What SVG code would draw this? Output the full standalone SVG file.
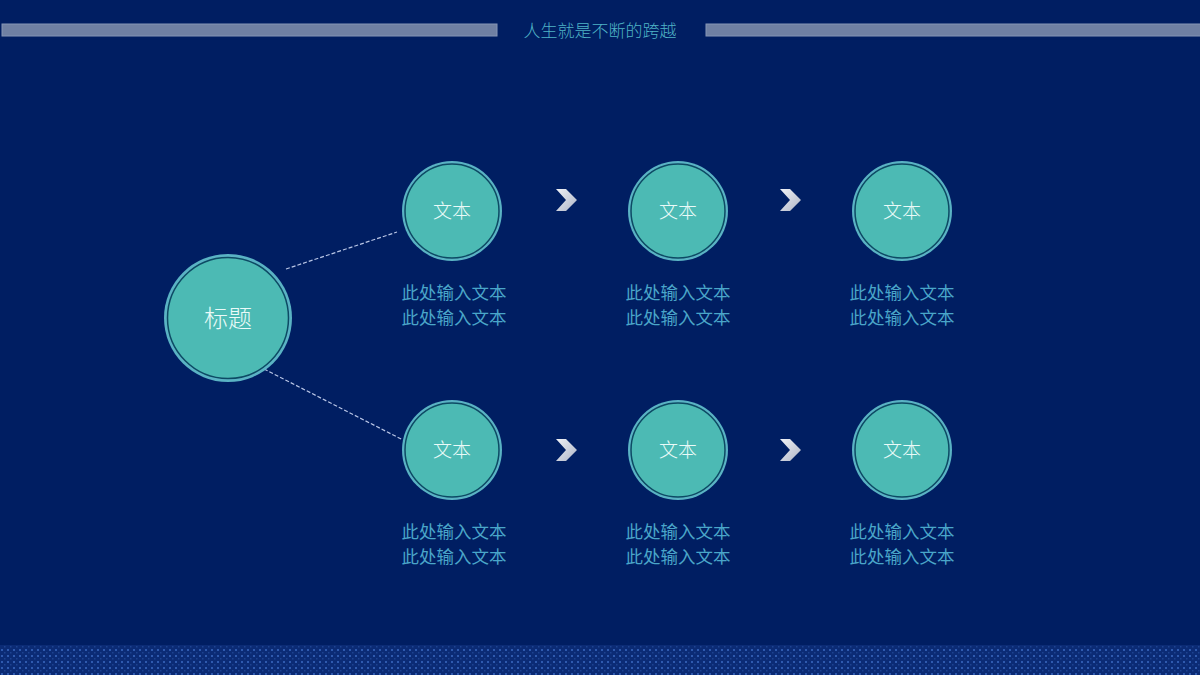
<svg xmlns="http://www.w3.org/2000/svg" width="1200" height="675" viewBox="0 0 1200 675">
<defs>
<style>
.bar{fill:#6f80a3;stroke:#8595b5;stroke-width:1}
.ring{fill:#5ab3c4}
.gap{fill:none;stroke:#0d4a64;stroke-width:1.5}
.fill{fill:#4cbab4}
.ct{font-family:"Noto Sans CJK SC","Noto Sans",sans-serif;font-weight:300;fill:#eafaf8;text-anchor:middle}
.lb{font-family:"Noto Sans CJK SC","Noto Sans",sans-serif;font-size:17.5px;fill:#4aa6c9;text-anchor:middle}
.dash{stroke:#b9c6e6;stroke-width:1.2;stroke-dasharray:4 2;fill:none}
.chev{fill:url(#cg)}
</style>
<linearGradient id="cg" x1="0" y1="0" x2="1" y2="1">
<stop offset="0" stop-color="#f0f2f7"/>
<stop offset="1" stop-color="#aeb5c6"/>
</linearGradient>
<pattern id="dots" width="6" height="6" patternUnits="userSpaceOnUse">
<rect width="6" height="6" fill="#0b2b75"/>
<rect x="1" y="1" width="2" height="2" fill="#2f5aae"/>
<rect x="4" y="4" width="1.5" height="1.5" fill="#1d4391"/>
</pattern>
<g id="node">
<circle r="50" class="ring"/>
<circle r="47" class="fill"/>
<circle r="47" class="gap"/>
</g>
</defs>
<rect width="1200" height="675" fill="#001e62"/>
<rect x="0" y="645" width="1200" height="30" fill="url(#dots)"/>
<g id="header">
<rect class="bar" x="2" y="24" width="495" height="12"/>
<rect class="bar" x="706" y="24" width="496" height="12"/>
<text x="600" y="37" font-family="Noto Sans CJK SC,Noto Sans,sans-serif" font-size="17" font-weight="300" fill="#4fb3c6" text-anchor="middle">人生就是不断的跨越</text>
</g>
<g id="connectors">
<line class="dash" x1="286" y1="269" x2="397" y2="232"/>
<line class="dash" x1="264" y1="369" x2="403" y2="440"/>
<polygon class="chev" points="556,189 566,189 577,200 566,211 556,211 566,200"/>
<polygon class="chev" points="780,189 790,189 801,200 790,211 780,211 790,200"/>
<polygon class="chev" points="556,439 566,439 577,450 566,461 556,461 566,450"/>
<polygon class="chev" points="780,439 790,439 801,450 790,461 780,461 790,450"/>
</g>
<g id="title-node">
<circle cx="228" cy="318" r="64" class="ring"/>
<circle cx="228" cy="318" r="60.5" class="fill"/>
<circle cx="228" cy="318" r="60.5" class="gap"/>
<text class="ct" x="228" y="327" font-size="24">标题</text>
</g>
<g id="n1"><use href="#node" x="452" y="211"/><text class="ct" x="452" y="218" font-size="19">文本</text>
<text class="lb" x="454" y="299">此处输入文本</text><text class="lb" x="454" y="324">此处输入文本</text></g>
<g id="n2"><use href="#node" x="678" y="211"/><text class="ct" x="678" y="218" font-size="19">文本</text>
<text class="lb" x="678" y="299">此处输入文本</text><text class="lb" x="678" y="324">此处输入文本</text></g>
<g id="n3"><use href="#node" x="902" y="211"/><text class="ct" x="902" y="218" font-size="19">文本</text>
<text class="lb" x="902" y="299">此处输入文本</text><text class="lb" x="902" y="324">此处输入文本</text></g>
<g id="n4"><use href="#node" x="452" y="450"/><text class="ct" x="452" y="457" font-size="19">文本</text>
<text class="lb" x="454" y="538">此处输入文本</text><text class="lb" x="454" y="563">此处输入文本</text></g>
<g id="n5"><use href="#node" x="678" y="450"/><text class="ct" x="678" y="457" font-size="19">文本</text>
<text class="lb" x="678" y="538">此处输入文本</text><text class="lb" x="678" y="563">此处输入文本</text></g>
<g id="n6"><use href="#node" x="902" y="450"/><text class="ct" x="902" y="457" font-size="19">文本</text>
<text class="lb" x="902" y="538">此处输入文本</text><text class="lb" x="902" y="563">此处输入文本</text></g>
</svg>
